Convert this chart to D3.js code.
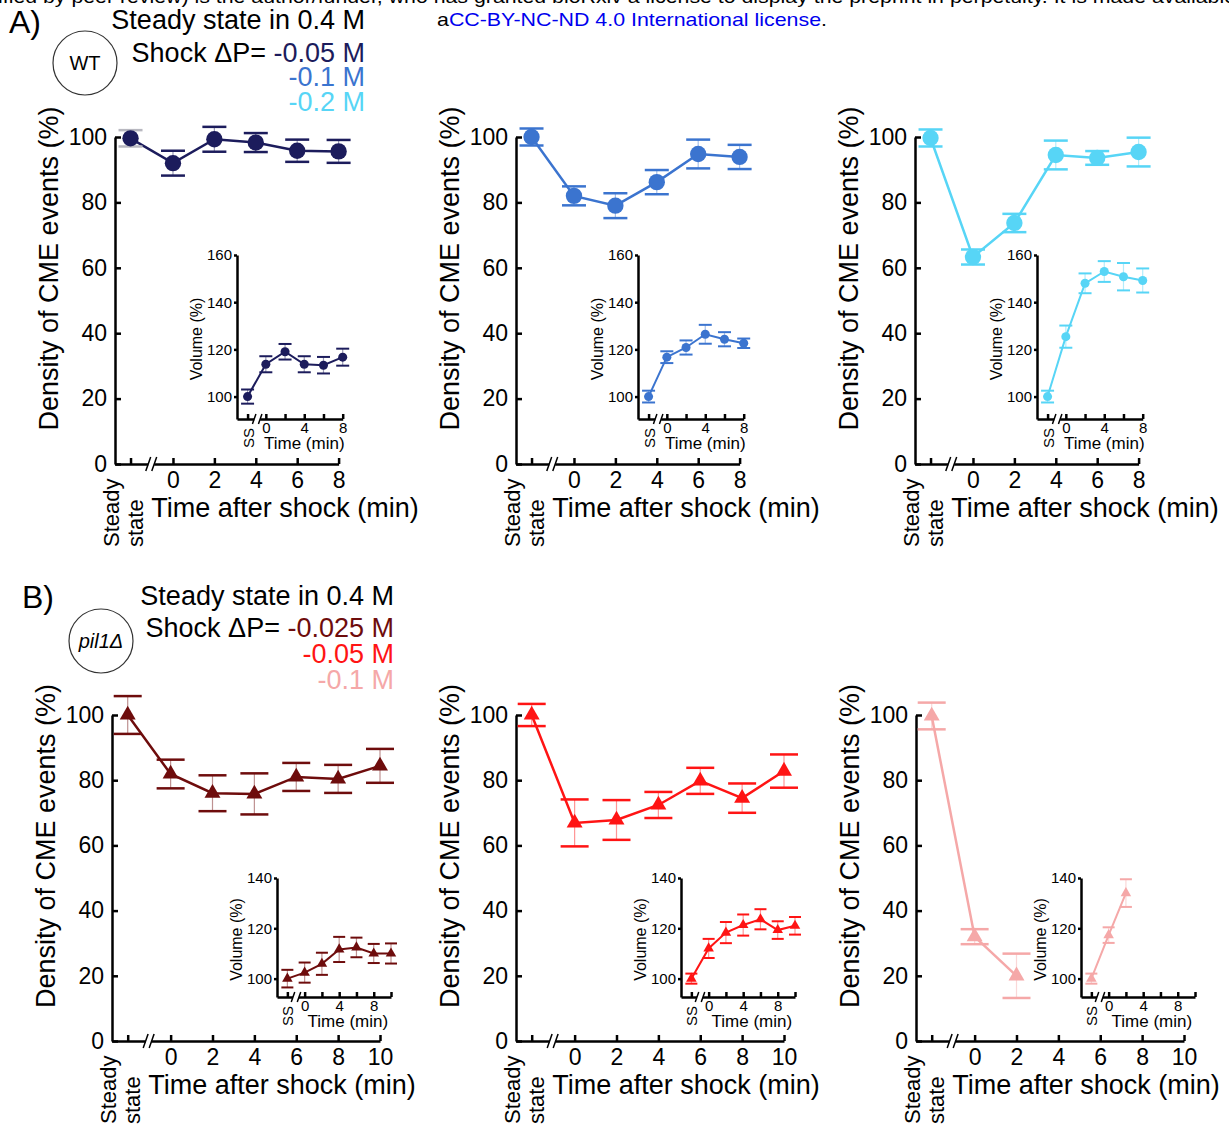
<!DOCTYPE html>
<html>
<head>
<meta charset="utf-8">
<script src="https://cdn.jsdelivr.net/npm/d3@7"></script>
<style>
  body { margin: 0; background: #fff; }
  svg { font-family: "Liberation Sans", Arial, sans-serif; }
</style>
</head>
<body>
<div id="chart"></div>
<script>
// time after shock (min); first value of every series is the steady state
const timesA = [0, 2, 4, 6, 8]
const timesB = [0, 2, 4, 6, 8, 10]
const yTicksMain = [0, 20, 40, 60, 80, 100]
const yTicksInsetA = [100, 120, 140, 160]
const yTicksInsetB = [100, 120, 140]
const insetTickLabels = [0, 4, 8]

// A) WT, density of CME events (%) and cell volume (%)
const densWT005 = [99.6, 92.0, 99.3, 98.3, 95.8, 95.6]
const errDensWT005 = [2.5, 3.8, 3.8, 2.9, 3.4, 3.5]
const volWT005 = [100, 113.7, 119.0, 113.7, 113.3, 116.7]
const errVolWT005 = [3.0, 3.4, 3.3, 3.4, 3.5, 3.6]

const densWT01 = [100, 82.0, 79.0, 86.2, 94.8, 93.9]
const errDensWT01 = [2.6, 2.9, 3.8, 3.7, 4.4, 3.7]
const volWT01 = [100, 116.7, 120.8, 126.4, 124.3, 122.6]
const errVolWT01 = [2.5, 2.5, 3.0, 4.0, 3.0, 2.0]

const densWT02 = [99.7, 63.3, 73.7, 94.5, 93.6, 95.4]
const errDensWT02 = [2.6, 2.3, 2.8, 4.4, 2.1, 4.4]
const volWT02 = [100, 125.4, 148.0, 153.0, 150.8, 149.2]
const errVolWT02 = [2.5, 4.7, 4.2, 4.4, 5.8, 5.1]

// B) pil1Δ
const densP0025 = [100, 81.9, 76.0, 75.8, 81.0, 80.4, 84.4]
const errDensP0025 = [5.8, 4.4, 5.5, 6.3, 4.3, 4.3, 5.2]
const volP0025 = [100, 102.4, 105.9, 111.6, 112.4, 110.0, 110.0]
const errVolP0025 = [3.5, 4.0, 4.4, 5.0, 3.9, 3.8, 4.0]

const densP005 = [100, 66.9, 67.8, 72.4, 79.8, 74.5, 82.8]
const errDensP005 = [3.4, 7.2, 6.1, 4.0, 4.0, 4.5, 5.1]
const volP005 = [100, 112.0, 118.3, 121.3, 123.6, 119.3, 121.0]
const errVolP005 = [2.0, 3.8, 4.2, 4.2, 4.0, 3.5, 3.5]

const densP01 = [99.7, 32.0, 20.0]
const errDensP01 = [4.1, 2.3, 6.8]
const volP01 = [100, 117.3, 134.0]
const errVolP01 = [2.0, 3.1, 5.5]

const svg = d3.select("#chart").append("svg")
  .attr("width", 1229)
  .attr("height", 1128)

// layouts (pixel boxes) of the main plots and the insets
const mainA = { x0: 115, x1: 338.6, yTop: 137, yBot: 464, tDom: [-2.8, 8], ticks: timesA, ssT: -2.05, brk: -1.05 }
const mainB = { x0: 112, x1: 380, yTop: 715, yBot: 1041, tDom: [-2.8, 10], ticks: timesB, ssT: -2.05, brk: -1.05 }
const insetA = { x0: 237, x1: 342.7, yTop: 255, yBot: 419, yDom: [90.5, 160], yTicks: yTicksInsetA, tDom: [-3, 8], ticks: timesA, ssT: -1.9, brk: -0.9 }
const insetB = { x0: 277, x1: 391, yTop: 878, yBot: 997, yDom: [92.7, 140], yTicks: yTicksInsetB, tDom: [-3.2, 10], ticks: timesB, ssT: -2.0, brk: -1.0 }

function styleAxis(ax, size) {
  ax.attr("font-family", null).attr("font-size", size)
  ax.selectAll("path, line").attr("stroke", "#000").attr("stroke-width", 2.5)
  ax.selectAll("text").attr("fill", "#000")
}

function drawBreak(g, x, y, h) {
  g.append("rect").attr("x", x - 3).attr("y", y - 2).attr("width", 6).attr("height", 4).attr("fill", "#fff")
  ;[-3, 3].forEach(o => {
    g.append("line")
      .attr("x1", x + o - h * 0.35).attr("y1", y + h)
      .attr("x2", x + o + h * 0.35).attr("y2", y - h)
      .attr("stroke", "#000").attr("stroke-width", 1.5)
  })
}

function drawSeries(g, x, y, times, ssT, vals, errs, o) {
  const pts = vals.map((v, i) => ({ t: i === 0 ? ssT : times[i - 1], v: v, e: errs[i] }))
  g.append("path")
    .datum(pts)
    .attr("fill", "none")
    .attr("stroke", o.color)
    .attr("stroke-width", o.lw)
    .attr("d", d3.line().x(d => x(d.t)).y(d => y(d.v)))
  const eb = g.append("g").selectAll("g").data(pts).enter().append("g")
  eb.append("line")
    .attr("x1", d => x(d.t)).attr("x2", d => x(d.t))
    .attr("y1", d => y(d.v - d.e)).attr("y2", d => y(d.v + d.e))
    .attr("stroke", o.color).attr("stroke-opacity", 0.45).attr("stroke-width", 1.2)
  ;[-1, 1].forEach(s => {
    eb.append("line")
      .attr("x1", d => x(d.t) - o.cap / 2).attr("x2", d => x(d.t) + o.cap / 2)
      .attr("y1", d => y(d.v + s * d.e)).attr("y2", d => y(d.v + s * d.e))
      .attr("stroke", (d, i) => (i === 0 && o.ssCap) ? o.ssCap : o.color)
      .attr("stroke-width", o.capW)
  })
  g.append("g").selectAll("path").data(pts).enter().append("path")
    .attr("transform", d => `translate(${x(d.t)},${y(d.v)})`)
    .attr("d", d3.symbol().type(o.shape === "tri" ? d3.symbolTriangle : d3.symbolCircle).size(o.size))
    .attr("fill", o.color)
}

function mainPlot(dx, L, vals, errs, o) {
  const g = svg.append("g").attr("transform", `translate(${dx},0)`)
  const x = d3.scaleLinear().domain(L.tDom).range([L.x0, L.x1])
  const y = d3.scaleLinear().domain([0, 100]).range([L.yBot, L.yTop])

  g.append("g").attr("transform", `translate(${L.x0},0)`)
    .call(d3.axisLeft(y).tickValues(yTicksMain).tickSizeInner(-6).tickSizeOuter(0).tickPadding(8))
    .call(ax => styleAxis(ax, 23))
  g.append("g").attr("transform", `translate(0,${L.yBot})`)
    .call(d3.axisBottom(x).tickValues([L.ssT, ...L.ticks]).tickFormat(d => d === L.ssT ? "" : d)
      .tickSizeInner(-6).tickSizeOuter(0).tickPadding(8))
    .call(ax => styleAxis(ax, 23))
  drawBreak(g, x(L.brk), L.yBot, 7)

  g.append("text")
    .attr("transform", `translate(${L.x0 - 57},${(L.yTop + L.yBot) / 2 - 32}) rotate(-90)`)
    .attr("text-anchor", "middle").attr("font-size", 27)
    .text("Density of CME events (%)")
  g.append("text")
    .attr("x", L.x0 + 170).attr("y", L.yBot + 53)
    .attr("text-anchor", "middle").attr("font-size", 27)
    .text("Time after shock (min)")
  ;[["Steady", 4], ["state", 28]].forEach(([t, off]) => {
    g.append("text")
      .attr("transform", `translate(${L.x0 + off},${L.yBot + 83}) rotate(-90)`)
      .attr("font-size", 22).text(t)
  })

  drawSeries(g, x, y, L.ticks, L.ssT, vals, errs, o)
}

function insetPlot(dx, L, vals, errs, o) {
  const g = svg.append("g").attr("transform", `translate(${dx},0)`)
  const x = d3.scaleLinear().domain(L.tDom).range([L.x0, L.x1])
  const y = d3.scaleLinear().domain(L.yDom).range([L.yBot, L.yTop])

  g.append("g").attr("transform", `translate(${L.x0},0)`)
    .call(d3.axisLeft(y).tickValues(L.yTicks).tickSizeInner(3).tickSizeOuter(0).tickPadding(2))
    .call(ax => styleAxis(ax, 15))
  g.append("g").attr("transform", `translate(0,${L.yBot})`)
    .call(d3.axisBottom(x).tickValues([L.ssT, ...L.ticks])
      .tickFormat(d => insetTickLabels.includes(d) ? d : "")
      .tickSizeInner(-5).tickSizeOuter(0).tickPadding(3))
    .call(ax => styleAxis(ax, 15))
  drawBreak(g, x(L.brk), L.yBot, 5)

  g.append("text")
    .attr("transform", `translate(${L.x0 - 35},${(L.yTop + L.yBot) / 2 + 2}) rotate(-90)`)
    .attr("text-anchor", "middle").attr("font-size", 16)
    .text("Volume (%)")
  g.append("text")
    .attr("x", x(L.ticks[0]) + (L.x1 - x(L.ticks[0])) / 2).attr("y", L.yBot + 30)
    .attr("text-anchor", "middle").attr("font-size", 17)
    .text("Time (min)")
  g.append("text")
    .attr("transform", `translate(${x(L.ssT) + 6},${L.yBot + 29}) rotate(-90)`)
    .attr("font-size", 15).text("SS")

  drawSeries(g, x, y, L.ticks, L.ssT, vals, errs, o)
}

const cWT = ["#1c1c5c", "#3b74cf", "#57d5f6"]
const cP = ["#6e0c0c", "#ff1414", "#f5a8a8"]
const dxA = [0, 401, 800]
const dxB = [0, 404, 804]

const mainCircle = { shape: "circle", size: 210, lw: 2.5, cap: 24, capW: 2.5 }
const insetCircle = { shape: "circle", size: 64, lw: 2, cap: 13, capW: 2 }
const mainTri = { shape: "tri", size: 110, lw: 2.5, cap: 28, capW: 2.5 }
const insetTri = { shape: "tri", size: 48, lw: 2, cap: 12, capW: 2 }

const seriesA = [
  [densWT005, errDensWT005, volWT005, errVolWT005],
  [densWT01, errDensWT01, volWT01, errVolWT01],
  [densWT02, errDensWT02, volWT02, errVolWT02]
]
const seriesB = [
  [densP0025, errDensP0025, volP0025, errVolP0025],
  [densP005, errDensP005, volP005, errVolP005],
  [densP01, errDensP01, volP01, errVolP01]
]

seriesA.forEach((s, i) => {
  const ss = i === 0 ? { ssCap: "#b8b8c0" } : {}
  mainPlot(dxA[i], mainA, s[0], s[1], { ...mainCircle, color: cWT[i], ...ss })
  insetPlot(dxA[i], insetA, s[2], s[3], { ...insetCircle, color: cWT[i] })
})
seriesB.forEach((s, i) => {
  mainPlot(dxB[i], mainB, s[0], s[1], { ...mainTri, color: cP[i] })
  insetPlot(dxB[i], insetB, s[2], s[3], { ...insetTri, color: cP[i] })
})

// headers
svg.append("text").attr("x", -2).attr("y", 3).attr("font-size", 19)
  .attr("textLength", 1238).attr("lengthAdjust", "spacingAndGlyphs")
  .text("ified by peer review) is the author/funder, who has granted bioRxiv a license to display the preprint in perpetuity. It is made available")
const lic = svg.append("text").attr("x", 437).attr("y", 26).attr("font-size", 19)
  .attr("textLength", 390).attr("lengthAdjust", "spacingAndGlyphs")
lic.append("tspan").text("a")
lic.append("tspan").attr("fill", "#0000ee").text("CC-BY-NC-ND 4.0 International license")
lic.append("tspan").text(".")

function header(lab, lx, ly, cx, cy, strain, italic, right, base, shocks, colors) {
  svg.append("text").attr("x", lx).attr("y", ly).attr("font-size", 32).text(lab)
  svg.append("circle").attr("cx", cx).attr("cy", cy).attr("r", 32)
    .attr("fill", "none").attr("stroke", "#333").attr("stroke-width", 1.2)
  svg.append("text").attr("x", cx).attr("y", cy + 7).attr("text-anchor", "middle")
    .attr("font-size", 20).attr("font-style", italic ? "italic" : null).text(strain)
  svg.append("text").attr("x", right).attr("y", base[0]).attr("text-anchor", "end")
    .attr("font-size", 27).text("Steady state in 0.4 M")
  const sh = svg.append("text").attr("x", right).attr("y", base[1]).attr("text-anchor", "end").attr("font-size", 27)
  sh.append("tspan").text("Shock ΔP= ")
  sh.append("tspan").attr("fill", colors[0]).text(shocks[0])
  shocks.slice(1).forEach((t, i) => {
    svg.append("text").attr("x", right).attr("y", base[i + 2]).attr("text-anchor", "end")
      .attr("font-size", 27).attr("fill", colors[i + 1]).text(t)
  })
}

header("A)", 9, 33, 85, 63, "WT", false, 365, [29, 62, 86, 111], ["-0.05 M", "-0.1 M", "-0.2 M"], cWT)
header("B)", 22, 608, 101, 641, "pil1Δ", true, 394, [605, 637, 663, 689], ["-0.025 M", "-0.05 M", "-0.1 M"], cP)
</script>
</body>
</html>
